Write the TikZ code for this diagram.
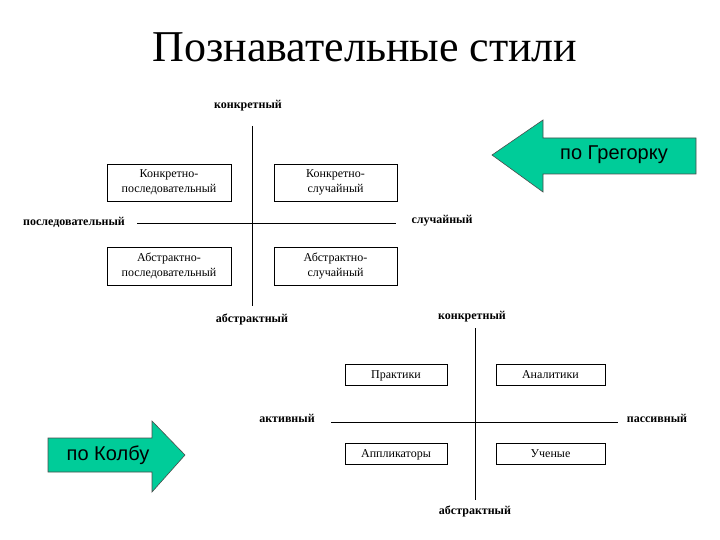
\documentclass[tikz,border=0pt]{standalone}
\usepackage{fontspec}
\setmainfont{Liberation Serif}
\newfontfamily\arialfont{Liberation Sans}
\definecolor{arrowgreen}{RGB}{0,204,153}
\begin{document}
\begin{tikzpicture}[x=1pt,y=-1pt,
  lbl/.style={font=\fontsize{12}{14}\selectfont\bfseries, inner sep=0pt},
  box/.style={draw, line width=0.8pt, font=\fontsize{12}{15}\selectfont, align=center, inner sep=0pt},
  sbox/.style={box, text height=8pt, text depth=0pt},
  axis/.style={line width=0.8pt},
  bigarrow/.style={fill=arrowgreen, draw=black!70, line width=0.6pt}]
\useasboundingbox (0,0) rectangle (720,540);
\node[font=\fontsize{44}{50}\selectfont, inner sep=0pt] (title) at (365,47) {Познавательные стили};

% Top diagram
\node[lbl] (tk) at (248,106) {конкретный};
\node[lbl] (ta) at (252,319) {абстрактный};
\node[lbl] (tp) at (74,222) {последовательный};
\node[lbl] (ts) at (442,221) {случайный};
\coordinate (tvt) at (252,126);
\coordinate (tvb) at (252,306);
\coordinate (thl) at (137,223);
\coordinate (thr) at (396,223);
\draw[axis] (tvt) -- (tvb);
\draw[axis] (thl) -- (thr);
\node[box, minimum width=124pt, minimum height=37pt] (b1) at (169,182.5) {Конкретно-\\последовательный};
\node[box, minimum width=123pt, minimum height=37pt] (b2) at (335.5,182.5) {Конкретно-\\случайный};
\node[box, minimum width=124pt, minimum height=38pt] (b3) at (169,266) {Абстрактно-\\последовательный};
\node[box, minimum width=123pt, minimum height=38pt] (b4) at (335.5,266) {Абстрактно-\\случайный};

% Gregorc arrow
\draw[bigarrow] (492,155) -- (543,120) -- (543,138) -- (696,138) -- (696,174) -- (543,174) -- (543,192) -- cycle;
\node[font=\arialfont\fontsize{20}{24}\selectfont, inner sep=0pt] (greg) at (614,155) {по Грегорку};

% Bottom diagram
\node[lbl] (bk) at (472,317) {конкретный};
\node[lbl] (ba) at (475,511) {абстрактный};
\node[lbl] (bact) at (287,418) {активный};
\node[lbl] (bpas) at (657,418) {пассивный};
\coordinate (bvt) at (475,328);
\coordinate (bvb) at (475,500);
\coordinate (bhl) at (331,422);
\coordinate (bhr) at (618,422);
\draw[axis] (bvt) -- (bvb);
\draw[axis] (bhl) -- (bhr);
\node[sbox, minimum width=102pt, minimum height=21pt] (p1) at (396,374.5) {Практики};
\node[sbox, minimum width=109pt, minimum height=21pt] (p2) at (550.5,374.5) {Аналитики};
\node[sbox, minimum width=102pt, minimum height=21pt] (p3) at (396,453.5) {Аппликаторы};
\node[sbox, minimum width=109pt, minimum height=21pt] (p4) at (550.5,453.5) {Ученые};

% Kolb arrow
\draw[bigarrow] (48,438) -- (152,438) -- (152,421) -- (185,455) -- (152,492) -- (152,472) -- (48,472) -- cycle;
\node[font=\arialfont\fontsize{20}{24}\selectfont, inner sep=0pt] (kolb) at (108,455) {по Колбу};
\end{tikzpicture}
\end{document}
